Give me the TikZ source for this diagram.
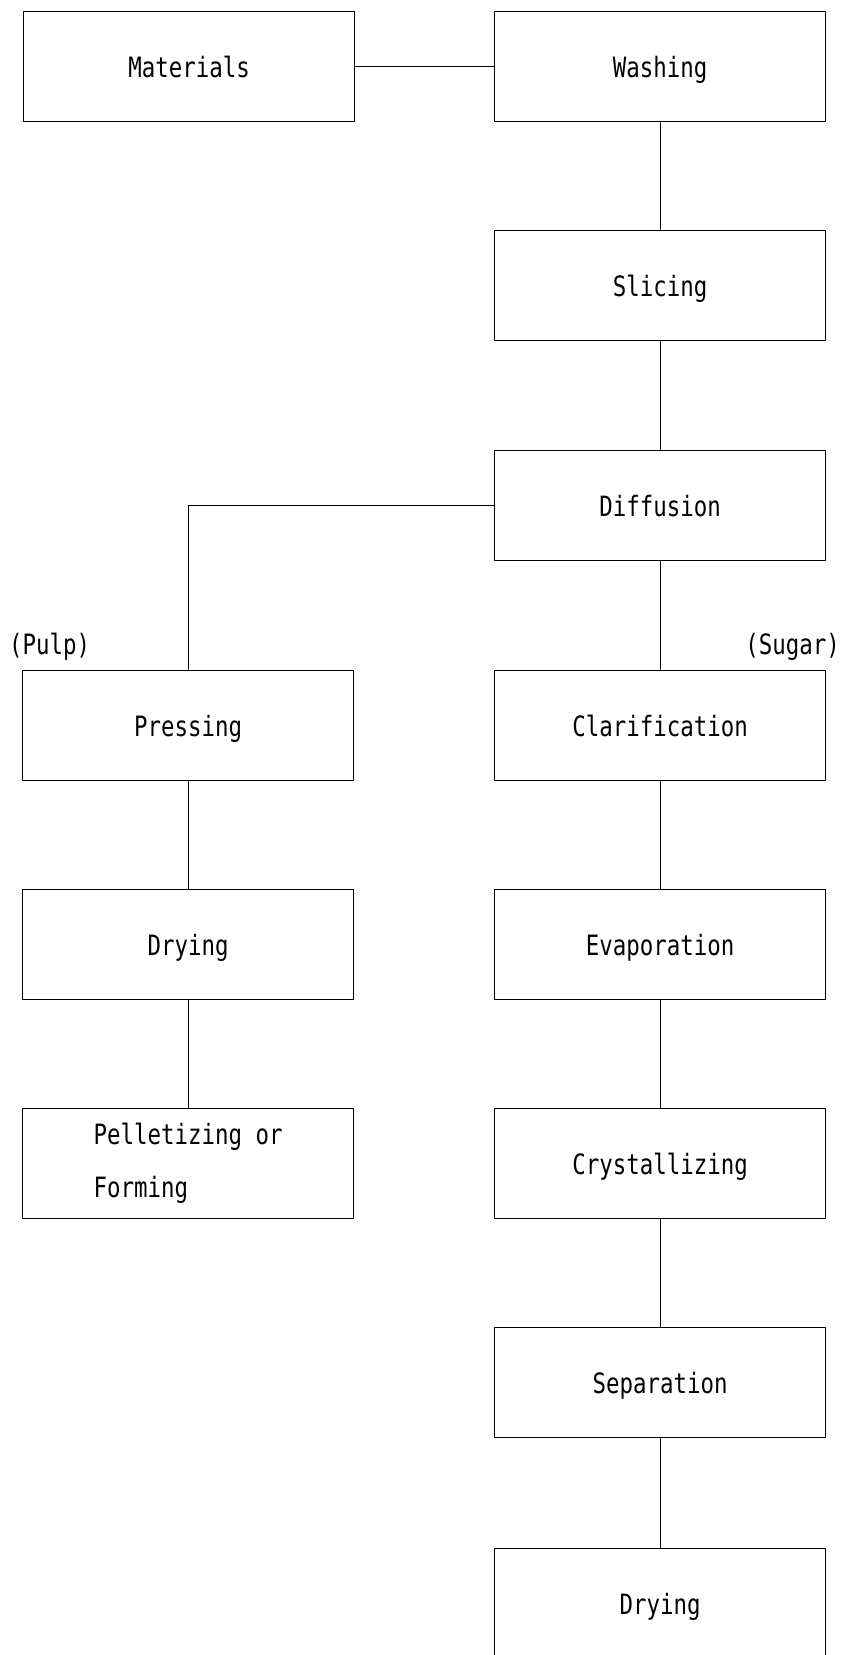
\documentclass[tikz,border=0pt]{standalone}
\usepackage{fontspec}
\newfontfamily\diagfont[FakeStretch=0.8]{DejaVu Sans Mono}
\begin{document}
\begin{tikzpicture}[x=1pt,y=-1pt,
  box/.style={draw, line width=1.2pt, minimum width=331pt, minimum height=110pt,
    inner sep=0pt, anchor=north west, font=\diagfont\fontsize{28}{53}\selectfont},
  single/.style={text depth=0pt},
  lbl/.style={inner sep=0pt, font=\diagfont\fontsize{28}{53}\selectfont},
  conn/.style={line width=1pt}]
\useasboundingbox (0,0) rectangle (843,1655);
\fill[white] (0,0) rectangle (843,1655);
% right column
\node[box,single] (mat)   at (23,11)    {Materials};
\node[box,single] (wash)  at (494,11)   {Washing};
\node[box,single] (slice) at (494,230)  {Slicing};
\node[box,single] (diff)  at (494,450)  {Diffusion};
\node[box,single] (clar)  at (494,670)  {Clarification};
\node[box,single] (evap)  at (494,889)  {Evaporation};
\node[box,single] (cryst) at (494,1108) {Crystallizing};
\node[box,single] (sep)   at (494,1327) {Separation};
\node[box,single] (dry2)  at (494,1548) {Drying};
% left column
\node[box,single] (press) at (22,670)  {Pressing};
\node[box,single] (dry1)  at (22,889)  {Drying};
\node[box,align=left] (pell) at (22,1108) {Pelletizing or\\Forming};
% labels
\node[lbl, anchor=base west] (pulp)  at (9,654)   {(Pulp)};
\node[lbl, anchor=base east] (sugar) at (840,654) {(Sugar)};
% connectors
\draw[conn] (mat.east) -- (wash.west);
\draw[conn] (wash.south) -- (slice.north);
\draw[conn] (slice.south) -- (diff.north);
\draw[conn] (diff.south) -- (clar.north);
\draw[conn] (clar.south) -- (evap.north);
\draw[conn] (evap.south) -- (cryst.north);
\draw[conn] (cryst.south) -- (sep.north);
\draw[conn] (sep.south) -- (dry2.north);
\draw[conn] (diff.west) -| (press.north);
\draw[conn] (press.south) -- (dry1.north);
\draw[conn] (dry1.south) -- (pell.north);
\end{tikzpicture}
\end{document}
